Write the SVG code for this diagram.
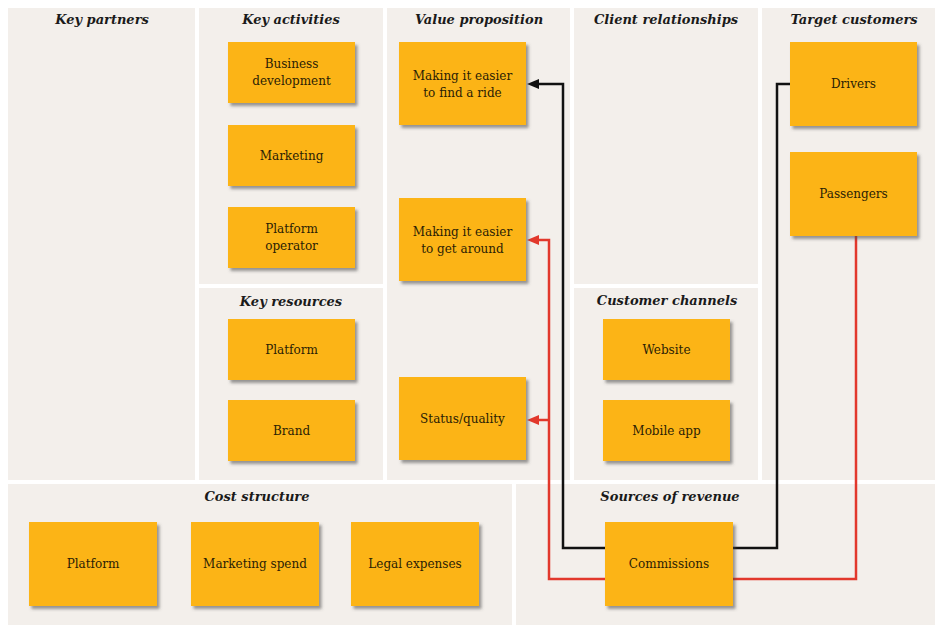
<svg xmlns="http://www.w3.org/2000/svg" width="935" height="627" viewBox="0 0 935 627">
  <style>
    .panel { fill: #f3efeb; }
    .hdr { font-family: "DejaVu Serif", "Liberation Serif", serif; font-size: 13px; font-weight: bold; font-style: italic; fill: #1a1a1a; text-anchor: middle; }
    .box { fill: #fcb415; filter: url(#sh); }
    .lbl { font-family: "DejaVu Serif", "Liberation Serif", serif; font-size: 12px; fill: #2a2105; text-anchor: middle; }
    .blk { fill: none; stroke: #111111; stroke-width: 2.5; }
    .red { fill: none; stroke: #e2382c; stroke-width: 2.5; }
  </style>
  <defs>
    <filter id="sh" x="-10%" y="-10%" width="130%" height="130%">
      <feDropShadow dx="2.5" dy="3" stdDeviation="1.6" flood-color="#4a4a4a" flood-opacity="0.55"/>
    </filter>
    <marker id="ab" viewBox="0 0 12 10" refX="5" refY="5" markerWidth="12" markerHeight="10" markerUnits="userSpaceOnUse" orient="auto">
      <path d="M0,0 L12,5 L0,10 Z" fill="#111111"/>
    </marker>
    <marker id="ar" viewBox="0 0 12 10" refX="5" refY="5" markerWidth="12" markerHeight="10" markerUnits="userSpaceOnUse" orient="auto">
      <path d="M0,0 L12,5 L0,10 Z" fill="#e2382c"/>
    </marker>
  </defs>
  <rect width="935" height="627" fill="#ffffff"/>

  <g id="panels">
    <rect class="panel" x="8" y="8" width="187" height="472"/>
    <rect class="panel" x="199" y="8" width="184" height="276"/>
    <rect class="panel" x="199" y="288" width="184" height="192"/>
    <rect class="panel" x="387" y="8" width="183" height="472"/>
    <rect class="panel" x="574" y="8" width="184" height="276"/>
    <rect class="panel" x="574" y="288" width="184" height="192"/>
    <rect class="panel" x="762" y="8" width="173" height="472"/>
    <rect class="panel" x="8" y="484" width="504" height="141"/>
    <rect class="panel" x="516" y="484" width="419" height="141"/>
    <text class="hdr" x="102" y="24">Key partners</text>
    <text class="hdr" x="291" y="24">Key activities</text>
    <text class="hdr" x="291" y="306">Key resources</text>
    <text class="hdr" x="479" y="24">Value proposition</text>
    <text class="hdr" x="666" y="24">Client relationships</text>
    <text class="hdr" x="667" y="305">Customer channels</text>
    <text class="hdr" x="854" y="24">Target customers</text>
    <text class="hdr" x="257" y="501">Cost structure</text>
    <text class="hdr" x="670" y="501">Sources of revenue</text>
  </g>

  <g id="connectors">
    <path class="blk" d="M790,84 H777 V548 H563 V84 H534" marker-end="url(#ab)"/>
    <path class="red" d="M856,236 V579 H549 V240 H534" marker-end="url(#ar)"/>
    <path class="red" d="M549,420 H534" marker-end="url(#ar)"/>
  </g>

  <g id="n-business-development"><rect class="box" x="228" y="42" width="127" height="61"/><text class="lbl" x="291.5" y="68">Business</text><text class="lbl" x="291.5" y="85">development</text></g>
  <g id="n-marketing"><rect class="box" x="228" y="125" width="127" height="61"/><text class="lbl" x="291.5" y="160">Marketing</text></g>
  <g id="n-platform-operator"><rect class="box" x="228" y="207" width="127" height="61"/><text class="lbl" x="291.5" y="233">Platform</text><text class="lbl" x="291.5" y="250">operator</text></g>
  <g id="n-platform-resource"><rect class="box" x="228" y="319" width="127" height="61"/><text class="lbl" x="291.5" y="354">Platform</text></g>
  <g id="n-brand"><rect class="box" x="228" y="400" width="127" height="61"/><text class="lbl" x="291.5" y="435">Brand</text></g>

  <g id="n-find-ride"><rect class="box" x="399" y="42" width="127" height="83"/><text class="lbl" x="462.5" y="80">Making it easier</text><text class="lbl" x="462.5" y="97">to find a ride</text></g>
  <g id="n-get-around"><rect class="box" x="399" y="198" width="127" height="83"/><text class="lbl" x="462.5" y="236">Making it easier</text><text class="lbl" x="462.5" y="253">to get around</text></g>
  <g id="n-status"><rect class="box" x="399" y="377" width="127" height="83"/><text class="lbl" x="462.5" y="423">Status/quality</text></g>

  <g id="n-website"><rect class="box" x="603" y="319" width="127" height="61"/><text class="lbl" x="666.5" y="354">Website</text></g>
  <g id="n-mobile-app"><rect class="box" x="603" y="400" width="127" height="61"/><text class="lbl" x="666.5" y="435">Mobile app</text></g>

  <g id="n-drivers"><rect class="box" x="790" y="42" width="127" height="84"/><text class="lbl" x="853.5" y="88">Drivers</text></g>
  <g id="n-passengers"><rect class="box" x="790" y="152" width="127" height="84"/><text class="lbl" x="853.5" y="198">Passengers</text></g>

  <g id="n-platform-cost"><rect class="box" x="29" y="522" width="128" height="84"/><text class="lbl" x="93" y="568">Platform</text></g>
  <g id="n-marketing-spend"><rect class="box" x="191" y="522" width="128" height="84"/><text class="lbl" x="255" y="568">Marketing spend</text></g>
  <g id="n-legal-expenses"><rect class="box" x="351" y="522" width="128" height="84"/><text class="lbl" x="415" y="568">Legal expenses</text></g>
  <g id="n-commissions"><rect class="box" x="605" y="522" width="128" height="84"/><text class="lbl" x="669" y="568">Commissions</text></g>
</svg>
